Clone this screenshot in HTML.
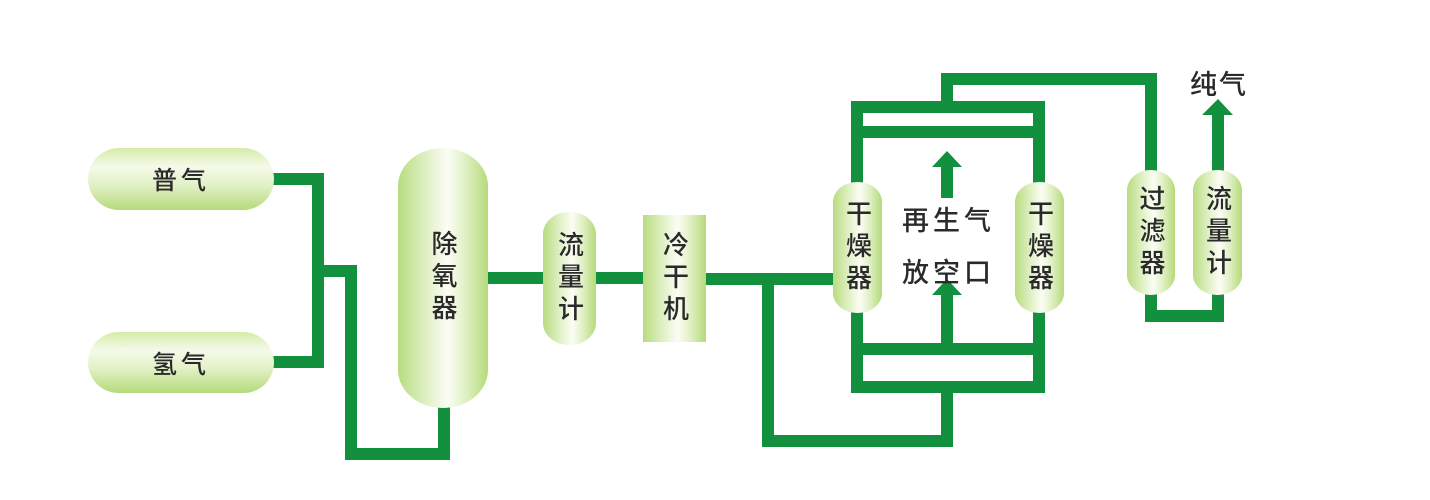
<!DOCTYPE html>
<html><head><meta charset="utf-8"><style>
html,body{margin:0;padding:0;background:#fff;}
body{width:1430px;height:500px;position:relative;overflow:hidden;font-family:"Liberation Sans","Noto Sans CJK SC",sans-serif;}
svg{position:absolute;left:0;top:0;}
.c{position:absolute;display:flex;align-items:center;justify-content:center;color:#2a2a2a;font-weight:500;box-sizing:border-box;}
.h{background:linear-gradient(to bottom,#d6eba8 0%,#f4faea 30%,#e2f1c6 60%,#b5da7a 100%);font-size:25px;letter-spacing:4px;}
.v{background:linear-gradient(to right,#b8dc80 0%,#e4f2cc 35%,#fbfdf4 55%,#e0f0c4 75%,#b5da7a 100%);font-size:26px;writing-mode:vertical-rl;line-height:1;letter-spacing:6px;}
.t{position:absolute;font-size:27px;color:#2a2a2a;font-weight:500;letter-spacing:4px;}
</style></head><body>
<svg width="1430" height="500" viewBox="0 0 1430 500">
<g fill="none" stroke="#12903e" stroke-width="12" stroke-linejoin="miter" stroke-linecap="butt">
<polyline points="270,179 318,179 318,362 270,362"/>
<polyline points="318,271 351,271 351,454 444,454 444,400"/>
<line x1="485" y1="278" x2="548" y2="278"/>
<line x1="592" y1="278" x2="646" y2="278"/>
<line x1="703" y1="279" x2="836" y2="279"/>
<polyline points="768,279 768,441 947,441 947,387"/>
<polyline points="857,185 857,107 1039,107 1039,185"/>
<line x1="857" y1="132" x2="1039" y2="132"/>
<polyline points="857,310 857,387 1039,387 1039,310"/>
<line x1="857" y1="349" x2="1039" y2="349"/>
<polyline points="947,107 947,79 1151,79 1151,173"/>
<polyline points="1151,292 1151,316 1218,316 1218,292"/>
<line x1="947" y1="349" x2="947" y2="292"/>
<line x1="947" y1="198" x2="947" y2="164"/>
<line x1="1218" y1="173" x2="1218" y2="112"/>
</g>
<g fill="#12903e">
<polygon points="932,167 947,151 962,167"/>
<polygon points="932,295 947,279 962,295"/>
<polygon points="1202,115 1218,99 1233,115"/>
</g>
</svg>
<div class="c h" style="left:88px;top:148px;width:186px;height:62px;border-radius:31px;">普气</div>
<div class="c h" style="left:88px;top:332px;width:186px;height:61px;border-radius:31px;">氢气</div>
<div class="c v" style="left:398px;top:148px;width:90px;height:260px;border-radius:45px/38px;">除氧器</div>
<div class="c v" style="left:543px;top:212px;width:53px;height:133px;border-radius:26px/22px;">流量计</div>
<div class="c v" style="left:643px;top:215px;width:63px;height:127px;">冷干机</div>
<div class="c v" style="left:833px;top:182px;width:49px;height:131px;border-radius:24px/20px;">干燥器</div>
<div class="c v" style="left:1015px;top:182px;width:49px;height:131px;border-radius:24px/20px;">干燥器</div>
<div class="c v" style="left:1127px;top:170px;width:48px;height:125px;border-radius:24px/20px;">过滤器</div>
<div class="c v" style="left:1193px;top:170px;width:49px;height:125px;border-radius:24px/20px;">流量计</div>
<div class="t" style="left:902px;top:199px;">再生气</div>
<div class="t" style="left:902px;top:251px;">放空口</div>
<div class="t" style="left:1190px;top:63px;letter-spacing:2px;">纯气</div>
</body></html>
